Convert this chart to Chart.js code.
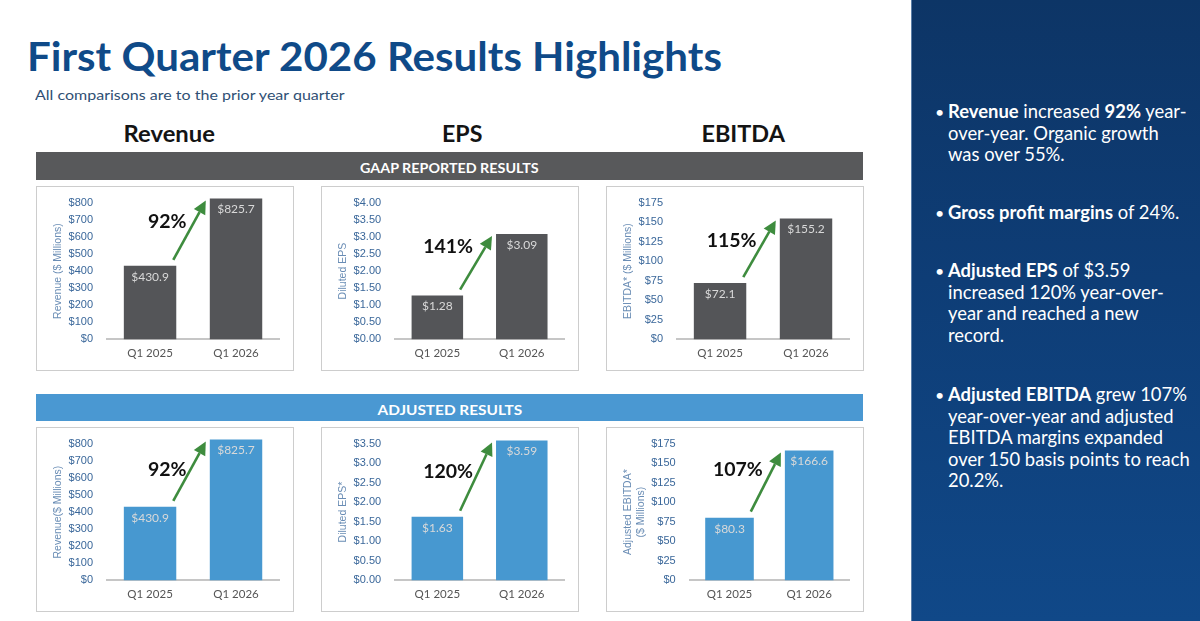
<!DOCTYPE html>
<html><head><meta charset="utf-8">
<script src="https://cdn.jsdelivr.net/npm/chart.js@4.4.1/dist/chart.umd.min.js"></script>
<style>
html,body{margin:0;padding:0;width:1200px;height:621px;overflow:hidden;background:#fff;font-family:Lato,'Open Sans',sans-serif;}
#page{position:relative;width:1200px;height:621px;}
.abs{position:absolute;white-space:nowrap;transform-origin:0 0;}
#title{left:27px;top:35px;font-size:41px;line-height:41px;font-weight:700;color:#0f4a88;}
#subtitle{left:35px;top:86px;font-size:14px;line-height:18px;color:#2f4f74;}
.colhead{top:120px;font-size:22px;line-height:28px;font-weight:700;color:#141414;transform-origin:50% 0;}
.band{left:36px;width:827px;height:28px;color:#fff;font-size:14px;font-weight:700;}
.band span{position:absolute;top:7px;left:0;width:100%;text-align:center;line-height:18px;}
.box{position:absolute;width:258px;height:185px;border:1px solid #cdcdcd;box-sizing:border-box;background:#fff;}
.box .wrap{position:absolute;left:0;top:0;width:256px;height:183px;}
#panel{position:absolute;left:911px;top:0;width:289px;height:621px;background:linear-gradient(180deg,#0d3566 0%,#0e3d76 45%,#104888 100%);border-left:1px solid #5c7fa8;box-sizing:border-box;}
.bul{position:absolute;left:36px;color:#fff;font-size:18.4px;line-height:21.6px;white-space:nowrap;}
.bul b{font-weight:700;}
.bul .dot{position:absolute;left:-13px;top:0;font-size:16px;}
</style>
</head><body>
<div id="page">
  <div id="title" class="abs">First Quarter 2026 Results Highlights</div>
  <div id="subtitle" class="abs">All comparisons are to the prior year quarter</div>
  <div class="abs colhead" id="h1">Revenue</div>
  <div class="abs colhead" id="h2">EPS</div>
  <div class="abs colhead" id="h3">EBITDA</div>
  <div class="abs band" style="top:152px;background:#58595b;"><span id="b1">GAAP REPORTED RESULTS</span></div>
  <div class="abs band" style="top:394px;height:27px;background:#4a98d2;"><span id="b2">ADJUSTED RESULTS</span></div>
  <div id="boxes"></div>
  <div id="panel">
    <div class="bul" style="top:101px;"><span class="dot">•</span><b>Revenue</b> increased <b>92%</b> year-<br>over-year. Organic growth<br>was over 55%.</div>
    <div class="bul" style="top:202px;"><span class="dot">•</span><b>Gross profit margins</b> of 24%.</div>
    <div class="bul" style="top:260px;"><span class="dot">•</span><b>Adjusted EPS</b> of $3.59<br>increased 120% year-over-<br>year and reached a new<br>record.</div>
    <div class="bul" style="top:384px;"><span class="dot">•</span><b>Adjusted EBITDA</b> grew 107%<br>year-over-year and adjusted<br>EBITDA margins expanded<br>over 150 basis points to reach<br>20.2%.</div>
  </div>
</div>
<script>
// ---- data ----
const categories = ['Q1 2025', 'Q1 2026'];
const gaapRevenue = [430.9, 825.7];
const gaapEps = [1.28, 3.09];
const gaapEbitda = [72.1, 155.2];
const adjRevenue = [430.9, 825.7];
const adjEps = [1.63, 3.59];
const adjEbitda = [80.3, 166.6];
const gaapGrowth = ['92%', '141%', '115%'];
const adjGrowth = ['92%', '120%', '107%'];
const revenueAxisMax = 800, revenueAxisStep = 100;
const gaapEpsAxisMax = 4, adjEpsAxisMax = 3.5, epsAxisStep = 0.5;
const ebitdaAxisMax = 175, ebitdaAxisStep = 25;

// ---- styles ----
const GRAY = '#545558', BLUE = '#4798d0';
const money0 = v => '$' + v;
const money2 = v => '$' + Number(v).toFixed(2);
const money1 = v => '$' + Number(v).toFixed(1);

// dy: vertical offset of the growth label from the arrow midpoint (style only)
const specs = [
  {left:36,  top:186, data:gaapRevenue, growth:gaapGrowth[0], color:GRAY, title:'Revenue ($ Millions)', max:revenueAxisMax, step:revenueAxisStep, tick:money0, lab:money1, dy:-8.5},
  {left:321, top:186, data:gaapEps, growth:gaapGrowth[1], color:GRAY, title:'Diluted EPS', max:gaapEpsAxisMax, step:epsAxisStep, tick:money2, lab:money2, dy:-16},
  {left:606, top:186, data:gaapEbitda, growth:gaapGrowth[2], color:GRAY, title:'EBITDA* ($ Millions)', max:ebitdaAxisMax, step:ebitdaAxisStep, tick:money0, lab:money1, dy:-8},
  {left:36,  top:427, data:adjRevenue, growth:adjGrowth[0], color:BLUE, title:'Revenue($ Millions)', max:revenueAxisMax, step:revenueAxisStep, tick:money0, lab:money1, dy:-1.5},
  {left:321, top:427, data:adjEps, growth:adjGrowth[1], color:BLUE, title:'Diluted EPS*', max:adjEpsAxisMax, step:epsAxisStep, tick:money2, lab:money2, dy:-4.5},
  {left:606, top:427, data:adjEbitda, growth:adjGrowth[2], color:BLUE, title:['Adjusted EBITDA*', '($ Millions)'], max:ebitdaAxisMax, step:ebitdaAxisStep, tick:money0, lab:money1, dy:-12}
];

const Y_PAD = 14, X_PAD = 7;

const annotPlugin = {
  id: 'annot',
  afterDatasetsDraw(chart) {
    const sp = chart.canvas._spec;
    if (!sp) return;
    const ctx = chart.ctx;
    const meta = chart.getDatasetMeta(0);
    const b1 = meta.data[0], b2 = meta.data[1];
    ctx.save();
    // value labels
    ctx.font = '12px Lato, "Open Sans", sans-serif';
    ctx.fillStyle = '#d9d9d9';
    ctx.textAlign = 'center';
    ctx.textBaseline = 'middle';
    meta.data.forEach((b, i) => {
      ctx.fillText(sp.lab(sp.data[i]), b.x, b.y + 11);
    });
    // arrow
    const sx = b1.x + b1.width / 2 - 3, sy = b1.y - 6;
    const ex = b2.x - b2.width / 2 - 4, ey = b2.y + 2;
    const ang = Math.atan2(ey - sy, ex - sx);
    const hl = 13, hw = 6.5;
    const bx = ex - hl * Math.cos(ang), by = ey - hl * Math.sin(ang);
    ctx.strokeStyle = '#3e8c3e';
    ctx.fillStyle = '#3e8c3e';
    ctx.lineWidth = 2.6;
    ctx.beginPath(); ctx.moveTo(sx, sy); ctx.lineTo(bx, by); ctx.stroke();
    ctx.beginPath();
    ctx.moveTo(ex, ey);
    ctx.lineTo(bx + hw * Math.sin(ang), by - hw * Math.cos(ang));
    ctx.lineTo(bx - hw * Math.sin(ang), by + hw * Math.cos(ang));
    ctx.closePath(); ctx.fill();
    // growth text
    const mx = (sx + ex) / 2, my = (sy + ey) / 2;
    ctx.font = 'bold 19.5px Lato, "Open Sans", sans-serif';
    ctx.fillStyle = '#111';
    ctx.textAlign = 'right';
    ctx.fillText(sp.growth, mx - 3, my + sp.dy);
    ctx.restore();
  }
};

function build() {
  const host = document.getElementById('boxes');
  specs.forEach(sp => {
    const box = document.createElement('div');
    box.className = 'box';
    box.style.left = sp.left + 'px';
    box.style.top = sp.top + 'px';
    const wrap = document.createElement('div');
    wrap.className = 'wrap';
    const cv = document.createElement('canvas');
    cv._spec = sp;
    wrap.appendChild(cv); box.appendChild(wrap); host.appendChild(box);
    const tickFmt = sp.tick;
    new Chart(cv, {
      type: 'bar',
      data: {labels: categories, datasets: [{data: sp.data, backgroundColor: sp.color, borderWidth: 0, barPercentage: 0.61, categoryPercentage: 1, clip: false}]},
      options: {
        responsive: true, maintainAspectRatio: false, animation: false,
        layout: {padding: {top: 16, right: 14, bottom: 10, left: 13}},
        plugins: {legend: {display: false}, tooltip: {enabled: false}},
        scales: {
          x: {
            grid: {display: false, drawTicks: false},
            border: {display: true, color: '#c6c6c6', width: 2},
            ticks: {color: '#555', padding: X_PAD, font: {family: 'Lato', size: 11.5}},
            afterFit: s => { s.height -= X_PAD; }
          },
          y: {
            min: 0, max: sp.max,
            grid: {display: false, drawTicks: false},
            border: {display: false},
            ticks: {stepSize: sp.step, autoSkip: false, color: '#3a679a', padding: Y_PAD, font: {family: 'Liberation Sans', size: 11}, callback: v => tickFmt(v)},
            title: {display: true, text: sp.title, color: '#6a8db5', font: {family: 'Liberation Sans', size: 10.5}, padding: {top: 2, bottom: 4}},
            afterFit: s => { s.width -= Y_PAD; s.paddingTop = 6; s.paddingBottom = 6; }
          }
        }
      },
      plugins: [annotPlugin]
    });
  });
}

function fit(id, w) {
  const el = document.getElementById(id);
  el.style.transform = 'scaleX(' + (w / el.offsetWidth) + ')';
}
function center(id, cx, w) {
  const el = document.getElementById(id);
  const s = w / el.offsetWidth;
  el.style.left = (cx - el.offsetWidth / 2) + 'px';
  el.style.transform = 'scaleX(' + s + ')';
}
function fitSpan(id, w) {
  const el = document.getElementById(id);
  el.style.display = 'inline-block';
  el.style.width = 'auto';
  el.style.left = '50%';
  const ow = el.offsetWidth;
  el.style.marginLeft = (-ow / 2) + 'px';
  el.style.transformOrigin = '50% 0';
  el.style.transform = 'scaleX(' + (w / ow) + ')';
}
function layoutText() {
  fit('title', 695);
  fit('subtitle', 310);
  center('h1', 168.5, 91);
  center('h2', 462, 40);
  center('h3', 743, 83);
  fitSpan('b1', 179);
  fitSpan('b2', 145);
}
layoutText();
build();
</script>
</body></html>
